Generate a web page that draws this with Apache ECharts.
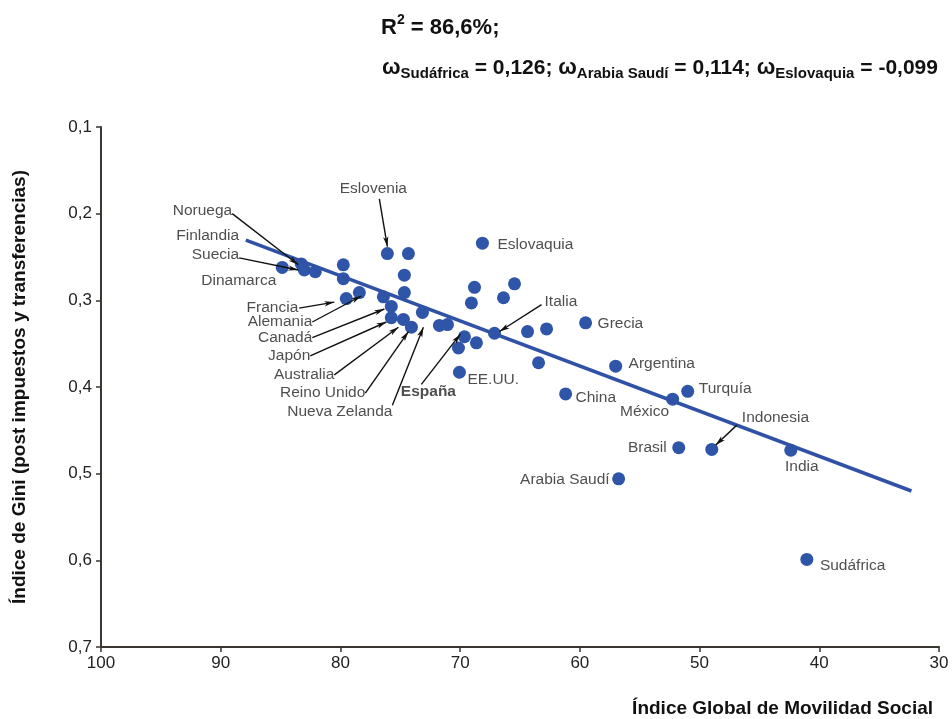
<!DOCTYPE html>
<html>
<head>
<meta charset="utf-8">
<script src="https://cdn.jsdelivr.net/npm/echarts@6/dist/echarts.min.js"></script>
<style>
html,body{margin:0;padding:0;background:#fff;}
#chart{width:952px;height:719px;}
</style>
</head>
<body>
<div id="chart"></div>
<script>
// puntos: Índice Global de Movilidad Social (x) vs Gini post impuestos (y)
const movilidad = [84.86, 83.27, 83.02, 82.10, 79.76, 79.76, 76.08, 74.32, 74.66, 74.66,
                   79.51, 78.42, 76.41, 75.75, 75.75, 74.74, 74.07, 73.15, 71.73, 71.06,
                   69.64, 70.14, 68.64, 70.06, 68.14, 68.80, 65.46, 69.06, 66.38, 67.13,
                   64.37, 62.78, 59.52, 63.45, 61.19, 57.01, 52.25, 50.99, 51.74, 48.98,
                   42.38, 56.76, 41.04];
const gini = [0.262, 0.258, 0.265, 0.267, 0.259, 0.275, 0.246, 0.246, 0.271, 0.291,
              0.298, 0.291, 0.296, 0.307, 0.320, 0.322, 0.331, 0.314, 0.329, 0.328,
              0.342, 0.355, 0.349, 0.383, 0.234, 0.285, 0.281, 0.303, 0.297, 0.338,
              0.336, 0.333, 0.326, 0.372, 0.408, 0.376, 0.414, 0.405, 0.470, 0.472,
              0.473, 0.506, 0.599];

// recta de regresión
const tendenciaX = [87.9, 32.3];
const tendenciaY = [0.2305, 0.52];

// etiquetas de países
const etiquetas = ['Eslovenia', 'Noruega', 'Finlandia', 'Suecia', 'Dinamarca', 'Francia', 'Alemania',
                   'Canadá', 'Japón', 'Australia', 'Reino Unido', 'Nueva Zelanda', 'España', 'EE.UU.',
                   'Italia', 'Eslovaquia', 'Grecia', 'Argentina', 'China', 'México', 'Turquía',
                   'Indonesia', 'Brasil', 'India', 'Arabia Saudí', 'Sudáfrica'];
const etiquetaX = [77.25, 89.04, 88.46, 88.46, 85.36, 83.52, 82.35, 82.35, 82.52, 80.51, 77.92, 75.66,
                   72.65, 69.39, 62.95, 66.88, 58.52, 55.93, 60.36, 54.59, 50.07, 46.47, 52.75, 41.46,
                   57.51, 39.95];
const etiquetaY = [0.171, 0.197, 0.225, 0.247, 0.277, 0.309, 0.325, 0.343, 0.364, 0.386, 0.407, 0.428,
                   0.406, 0.392, 0.302, 0.236, 0.327, 0.373, 0.412, 0.429, 0.402, 0.436, 0.470, 0.492,
                   0.507, 0.606];
const etiquetaAlin = ['center', 'right', 'right', 'right', 'right', 'right', 'right', 'right', 'right',
                      'right', 'right', 'right', 'center', 'left', 'left', 'left', 'left', 'left', 'left',
                      'center', 'left', 'left', 'right', 'center', 'right', 'left'];

// flechas: desde la etiqueta hasta el punto
const flechaDesde = [[76.75, 0.183], [89.04, 0.200], [88.46, 0.251], [83.44, 0.309], [82.35, 0.325],
                     [82.35, 0.343], [82.52, 0.364], [80.51, 0.386], [77.92, 0.407], [75.66, 0.421],
                     [73.24, 0.397], [63.2, 0.305], [46.89, 0.444]];
const flechaHasta = [[76.08, 0.238], [83.52, 0.259], [83.52, 0.265], [80.51, 0.302], [78.26, 0.295],
                     [76.33, 0.310], [76.16, 0.325], [75.16, 0.331], [74.32, 0.336], [73.07, 0.331],
                     [69.98, 0.339], [66.71, 0.336], [48.65, 0.467]];

const fuente = '"Liberation Sans", Arial, sans-serif';
const coma = v => v.toFixed(1).replace('.', ',');

let chart = echarts.init(document.getElementById('chart'));

let puntos = movilidad.map((x, i) => [x, gini[i]]);
let textos = etiquetas.map((t, i) => ({
    name: t,
    value: [etiquetaX[i], etiquetaY[i]],
    label: {
        align: etiquetaAlin[i],
        fontWeight: t === 'España' ? 'bold' : 'normal'
    }
}));
let flechas = flechaDesde.map((d, i) => [{coord: d}, {coord: flechaHasta[i]}]);

var option = {
    animation: false,
    title: [{
        left: 376,
        top: 8,
        text: '{b|R}{sup|2}{b| = 86,6%;}',
        textStyle: {
            rich: {
                b: {fontFamily: fuente, fontSize: 22, fontWeight: 'bold', color: '#111', lineHeight: 30},
                sup: {fontFamily: fuente, fontSize: 14, fontWeight: 'bold', color: '#111', lineHeight: 15, verticalAlign: 'top'}
            }
        }
    }, {
        left: 377,
        top: 50,
        text: '{w|ω}{s|Sudáfrica}{b| = 0,126; }{w|ω}{s|Arabia Saudí}{b| = 0,114; }{w|ω}{s|Eslovaquia}{b| = -0,099}',
        textStyle: {
            rich: {
                w: {fontFamily: fuente, fontSize: 22, fontWeight: 'bold', color: '#111', lineHeight: 26},
                b: {fontFamily: fuente, fontSize: 21, fontWeight: 'bold', color: '#111', lineHeight: 26},
                s: {fontFamily: fuente, fontSize: 15, fontWeight: 'bold', color: '#111', lineHeight: 14, verticalAlign: 'bottom'}
            }
        }
    }, {
        right: 14,
        top: 694,
        text: 'Índice Global de Movilidad Social',
        textStyle: {fontFamily: fuente, fontSize: 19, fontWeight: 'bold', color: '#111'}
    }],
    grid: {
        left: 101,
        right: 13,
        top: 127,
        bottom: 72
    },
    xAxis: {
        type: 'value',
        min: 30,
        max: 100,
        interval: 10,
        inverse: true,
        splitLine: {show: false},
        axisLine: {lineStyle: {color: '#3a3632', width: 2}},
        axisTick: {length: 5, lineStyle: {color: '#3a3632', width: 1.5}},
        axisLabel: {fontFamily: fuente, fontSize: 17, color: '#222', margin: 8}
    },
    yAxis: {
        type: 'value',
        min: 0.1,
        max: 0.7,
        interval: 0.1,
        inverse: true,
        name: 'Índice de Gini (post impuestos y transferencias)',
        nameLocation: 'middle',
        nameGap: 72,
        nameTextStyle: {fontFamily: fuente, fontSize: 19, fontWeight: 'bold', color: '#111'},
        splitLine: {show: false},
        axisLine: {show: true, lineStyle: {color: '#3a3632', width: 2}},
        axisTick: {show: true, length: 5, lineStyle: {color: '#3a3632', width: 1.5}},
        axisLabel: {fontFamily: fuente, fontSize: 17, color: '#222', margin: 9, formatter: coma}
    },
    series: [{
        type: 'scatter',
        data: puntos,
        symbolSize: 13,
        itemStyle: {color: '#2f55a8', opacity: 1},
        z: 2
    }, {
        type: 'line',
        data: tendenciaX.map((x, i) => [x, tendenciaY[i]]),
        showSymbol: false,
        lineStyle: {color: '#2f52a6', width: 3.5},
        z: 3
    }, {
        type: 'scatter',
        data: textos,
        symbolSize: 0,
        silent: true,
        label: {
            show: true,
            position: [0, 0],
            verticalAlign: 'middle',
            formatter: '{b}',
            fontFamily: fuente,
            fontSize: 15.5,
            color: '#222'
        },
        markLine: {
            silent: true,
            symbol: ['none', 'arrow'],
            symbolSize: [4, 10],
            label: {show: false},
            lineStyle: {color: '#111', width: 1.4, type: 'solid'},
            data: flechas
        },
        z: 4
    }]
};

chart.setOption(option);
window.onresize = function () {
    chart.resize();
};
</script>
</body>
</html>
